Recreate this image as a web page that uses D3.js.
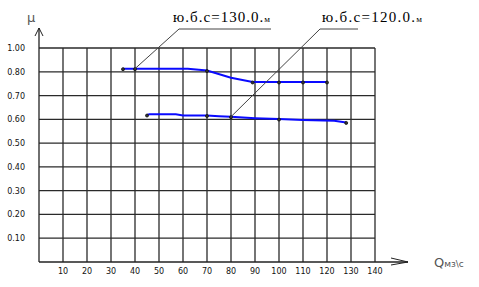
<!DOCTYPE html>
<html lang="en">
<head>
<meta charset="UTF-8">
<title>mu - Q</title>
<style>
  body { margin: 0; background: #fff; }
  svg { display: block; }
</style>
</head>
<body>
<div class="chart"></div>
<script src="https://cdn.jsdelivr.net/npm/d3@7"></script>
<script>
// values (y values in plotted units; the top row is labelled 1.00)
const xTicks = [10, 20, 30, 40, 50, 60, 70, 80, 90, 100, 110, 120, 130, 140]
const yTicks = [0.1, 0.2, 0.3, 0.4, 0.5, 0.6, 0.7, 0.8, 0.9]
const yTickLabels = ['0.10', '0.20', '0.30', '0.40', '0.50', '0.60', '0.70', '0.80', '1.00']

const upperQ  = [35, 40, 50, 62, 70, 80, 89, 100, 110, 120]
const upperMu = [0.813, 0.813, 0.813, 0.813, 0.805, 0.775, 0.757, 0.757, 0.757, 0.757]
const upperDots = [35, 40, 70, 89, 100, 110, 120]

const lowerQ  = [45, 46, 57, 60, 70, 75, 80, 90, 100, 110, 123, 128]
const lowerMu = [0.618, 0.621, 0.621, 0.616, 0.616, 0.613, 0.611, 0.605, 0.601, 0.597, 0.594, 0.587]
const lowerDots = [45, 70, 80, 100, 128]

const labels = ['ю.б.с=130.0.', 'ю.б.с=120.0.']
const labelUnit = 'м'
const labelTargetQ = [40, 80]
const labelTargetMu = [0.813, 0.611]

const width = 479, height = 287

const x = d3.scaleLinear().domain([0, 140]).range([39, 375])
const y = d3.scaleLinear().domain([0, 0.9]).range([262, 48])

const svg = d3.select('.chart').append('svg')
    .attr('width', width)
    .attr('height', height)

// grid
svg.append('g').selectAll('line')
    .data(xTicks)
    .join('line')
    .attr('x1', d => x(d)).attr('x2', d => x(d))
    .attr('y1', y(0)).attr('y2', y(0.9))
    .attr('stroke', '#2a2a2a').attr('stroke-width', 1.3)

svg.append('g').selectAll('line')
    .data(yTicks)
    .join('line')
    .attr('x1', x(0)).attr('x2', x(140))
    .attr('y1', d => y(d)).attr('y2', d => y(d))
    .attr('stroke', '#2a2a2a').attr('stroke-width', 1.3)

// axes with arrows
svg.append('line')
    .attr('x1', x(0)).attr('x2', x(0))
    .attr('y1', y(0)).attr('y2', 28)
    .attr('stroke', '#222').attr('stroke-width', 1.3)
svg.append('path')
    .attr('d', `M${x(0) - 4},36 L${x(0)},28 L${x(0) + 4},36`)
    .attr('fill', 'none').attr('stroke', '#222').attr('stroke-width', 1)

svg.append('line')
    .attr('x1', x(0)).attr('x2', 408)
    .attr('y1', y(0)).attr('y2', y(0))
    .attr('stroke', '#222').attr('stroke-width', 1.3)
svg.append('path')
    .attr('d', `M391,${y(0) - 4} L408,${y(0)} L391,${y(0) + 3}`)
    .attr('fill', 'none').attr('stroke', '#222').attr('stroke-width', 1)

// tick labels
svg.append('g').selectAll('text')
    .data(yTicks)
    .join('text')
    .attr('x', 25)
    .attr('y', d => y(d) + 3)
    .attr('text-anchor', 'end')
    .style('font', '8px "DejaVu Sans"')
    .attr('fill', '#111')
    .text((d, i) => yTickLabels[i])

svg.append('g').selectAll('text')
    .data(xTicks)
    .join('text')
    .attr('x', d => x(d))
    .attr('y', 274)
    .attr('text-anchor', 'middle')
    .style('font', '8px "DejaVu Sans"')
    .attr('fill', '#111')
    .text(d => d)

// axis names
svg.append('text')
    .attr('x', 27).attr('y', 22)
    .style('font', '13px "DejaVu Sans"')
    .attr('fill', '#555')
    .text('μ')

let qText = svg.append('text')
    .attr('x', 434).attr('y', 267)
    .attr('fill', '#555')
    .style('font-family', '"DejaVu Sans"')
qText.append('tspan').style('font-size', '13px').text('Q')
qText.append('tspan').style('font-size', '9px').text('мз\\с')

// curves
const line = d3.line()
    .x(d => x(d[0]))
    .y(d => y(d[1]))

const upper = upperQ.map((q, i) => [q, upperMu[i]])
const lower = lowerQ.map((q, i) => [q, lowerMu[i]])

svg.selectAll('.curve')
    .data([upper, lower])
    .join('path')
    .attr('class', 'curve')
    .attr('d', line)
    .attr('fill', 'none')
    .attr('stroke', '#0a0aff')
    .attr('stroke-width', 2)

let valueAt = function(pts, q) {
    for (let i = 1; i < pts.length; i++) {
        if (q <= pts[i][0]) {
            let t = (q - pts[i - 1][0]) / (pts[i][0] - pts[i - 1][0])
            return pts[i - 1][1] + t * (pts[i][1] - pts[i - 1][1])
        }
    }
    return pts[pts.length - 1][1]
}

let dots = upperDots.map(q => [q, valueAt(upper, q)])
    .concat(lowerDots.map(q => [q, valueAt(lower, q)]))

svg.selectAll('.dot')
    .data(dots)
    .join('circle')
    .attr('class', 'dot')
    .attr('cx', d => x(d[0]))
    .attr('cy', d => y(d[1]) + 0.5)
    .attr('r', 1.5)
    .attr('fill', '#333')
    .attr('stroke', '#111')
    .attr('stroke-width', 0.8)

// leader labels
const labelBox = [
    { tx: 173, ty: 22, len: 97, u1: 179, u2: 271 },
    { tx: 322, ty: 22, len: 100, u1: 320, u2: 358 }
]

labels.forEach((s, i) => {
    let b = labelBox[i]
    let t = svg.append('text')
        .attr('x', b.tx).attr('y', b.ty)
        .attr('fill', '#000')
        .attr('textLength', b.len)
        .attr('lengthAdjust', 'spacing')
        .style('font-family', '"Liberation Serif"')
    t.append('tspan').style('font-size', '15px').text(s)
    t.append('tspan').style('font-size', '9px').text(labelUnit)

    svg.append('line')
        .attr('x1', b.u1).attr('x2', b.u2)
        .attr('y1', 29).attr('y2', 29)
        .attr('stroke', '#444').attr('stroke-width', 1)
    svg.append('line')
        .attr('x1', b.u1).attr('y1', 29)
        .attr('x2', x(labelTargetQ[i])).attr('y2', y(labelTargetMu[i]))
        .attr('stroke', '#444').attr('stroke-width', 1)
})
</script>
</body>
</html>
